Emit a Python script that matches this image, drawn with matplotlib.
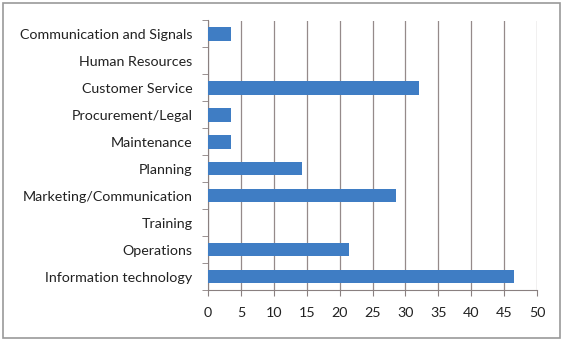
import matplotlib
matplotlib.use("Agg")
import matplotlib.pyplot as plt
from matplotlib.patches import Rectangle

categories = ["Communication and Signals", "Human Resources", "Customer Service",
              "Procurement/Legal", "Maintenance", "Planning",
              "Marketing/Communication", "Training", "Operations",
              "Information technology"]
values = [3.57, 0, 32.14, 3.57, 3.57, 14.29, 28.57, 0, 21.43, 46.43]
xticks = list(range(0, 51, 5))

plt.rcParams['font.family'] = ['Lato', 'DejaVu Sans']

fig = plt.figure(figsize=(5.66, 3.43), dpi=100)
ax = fig.add_axes([208/566, 1-290/343, (537-208)/566, (290-20.5)/343])

n = len(categories)
ypos = list(range(n))[::-1]
ax.barh(ypos, values, height=0.5, color="#3f7dc4", zorder=3)
ax.set_ylim(-0.5, n-0.5)
ax.set_xlim(0, 50)
ax.set_xticks(xticks)
ax.set_xticklabels([str(t) for t in xticks], fontsize=10.3, color="#222222")
ax.set_yticks(ypos)
ax.set_yticklabels(categories, fontsize=10.3, color="#222222")
ax.set_yticks([i - 0.5 for i in range(n + 1)], minor=True)
ax.tick_params(axis='y', which='major', length=0, pad=11)
ax.tick_params(axis='y', which='minor', length=4, color="#8a8080", direction='out')
ax.tick_params(axis='x', length=4, color="#8a8080", direction='out', pad=8)
ax.grid(axis='x', color="#958a8a", linewidth=0.9, zorder=0)
for s in ['top', 'right']:
    ax.spines[s].set_visible(False)
for s in ['left', 'bottom']:
    ax.spines[s].set_color("#8a8080")

fig.patches.append(Rectangle((3/566, 1-338/343), 557/566, 335/343, transform=fig.transFigure,
                             fill=False, edgecolor="#999999", linewidth=1.2))

fig.savefig("out.png", dpi=100)
